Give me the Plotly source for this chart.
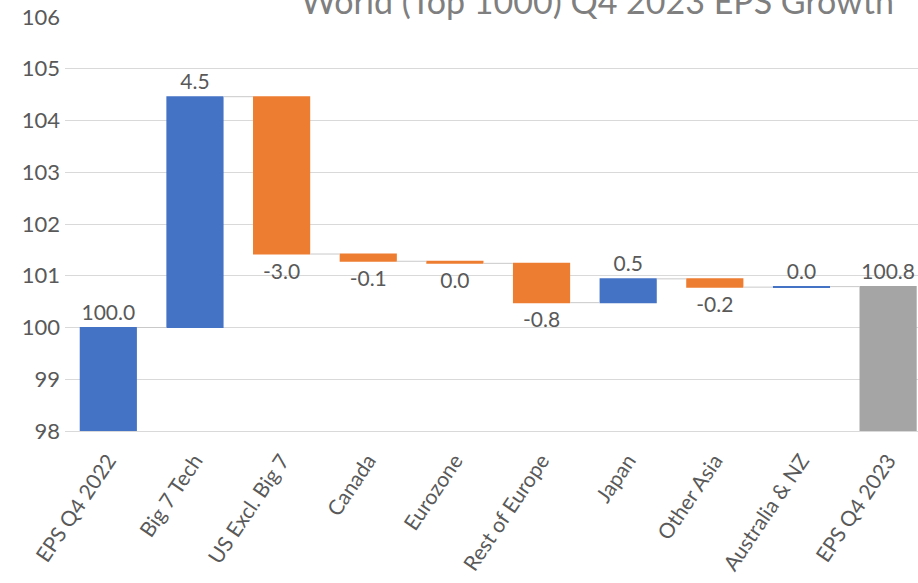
import plotly.graph_objects as go

# Contributions to world EPS growth, Q4 2022 -> Q4 2023 (index, Q4 2022 = 100)
categories = [
    "EPS Q4 2022", "Big 7 Tech", "US Excl. Big 7", "Canada", "Eurozone",
    "Rest of Europe", "Japan", "Other Asia", "Australia & NZ", "EPS Q4 2023",
]
contributions = [100.0, 4.46, -3.04, -0.14, -0.04, -0.76, 0.46, -0.16, 0.01]
measures = ["relative"] * len(contributions) + ["total"]

ending_level = sum(contributions)
bar_values = contributions + [ending_level]
bar_labels = [f"{round(v, 1) + 0.0:.1f}" for v in bar_values]

y_ticks = [98, 99, 100, 101, 102, 103, 104, 105, 106]

FONT = "Lato, 'Open Sans', sans-serif"
GREY_TEXT = "#595959"

fig = go.Figure(
    go.Waterfall(
        x=categories,
        y=contributions + [0],
        measure=measures,
        text=bar_labels,
        textposition="outside",
        constraintext="none",
        cliponaxis=False,
        textfont=dict(family=FONT, size=21, color=GREY_TEXT),
        increasing=dict(marker=dict(color="#4472C4")),
        decreasing=dict(marker=dict(color="#ED7D31")),
        totals=dict(marker=dict(color="#A5A5A5")),
        connector=dict(mode="between", line=dict(color="#C9C9C9", width=1)),
        hoverinfo="skip",
    )
)

fig.update_layout(
    width=918,
    height=583,
    margin=dict(l=65, r=0, t=17, b=152),
    paper_bgcolor="white",
    plot_bgcolor="white",
    showlegend=False,
    waterfallgap=0.34,
    font=dict(family=FONT, color=GREY_TEXT),
    annotations=[
        dict(
            text="World (Top 1000) Q4 2023 EPS Growth",
            xref="paper", yref="paper",
            x=(597 - 65) / 853, y=1 + (17 - 23) / 414,
            xanchor="center", yanchor="bottom",
            showarrow=False,
            font=dict(family=FONT, size=34, color="#7F7F7F"),
        )
    ],
)

fig.update_xaxes(
    type="category",
    range=[-0.5, 9.345],
    tickangle=-56,
    tickfont=dict(family=FONT, size=21, color=GREY_TEXT),
    showgrid=False,
    showline=True,
    linecolor="#D9D9D9",
    linewidth=1,
    ticks="",
    ticklabelstandoff=8,
)

fig.update_yaxes(
    range=[98, 106],
    tickvals=y_ticks,
    ticktext=[str(t) for t in y_ticks],
    tickfont=dict(family=FONT, size=22, color=GREY_TEXT),
    showgrid=True,
    gridcolor="#D9D9D9",
    gridwidth=1,
    zeroline=False,
    showline=False,
    ticks="",
    ticklabelstandoff=4,
)

fig.write_html("out.html")
